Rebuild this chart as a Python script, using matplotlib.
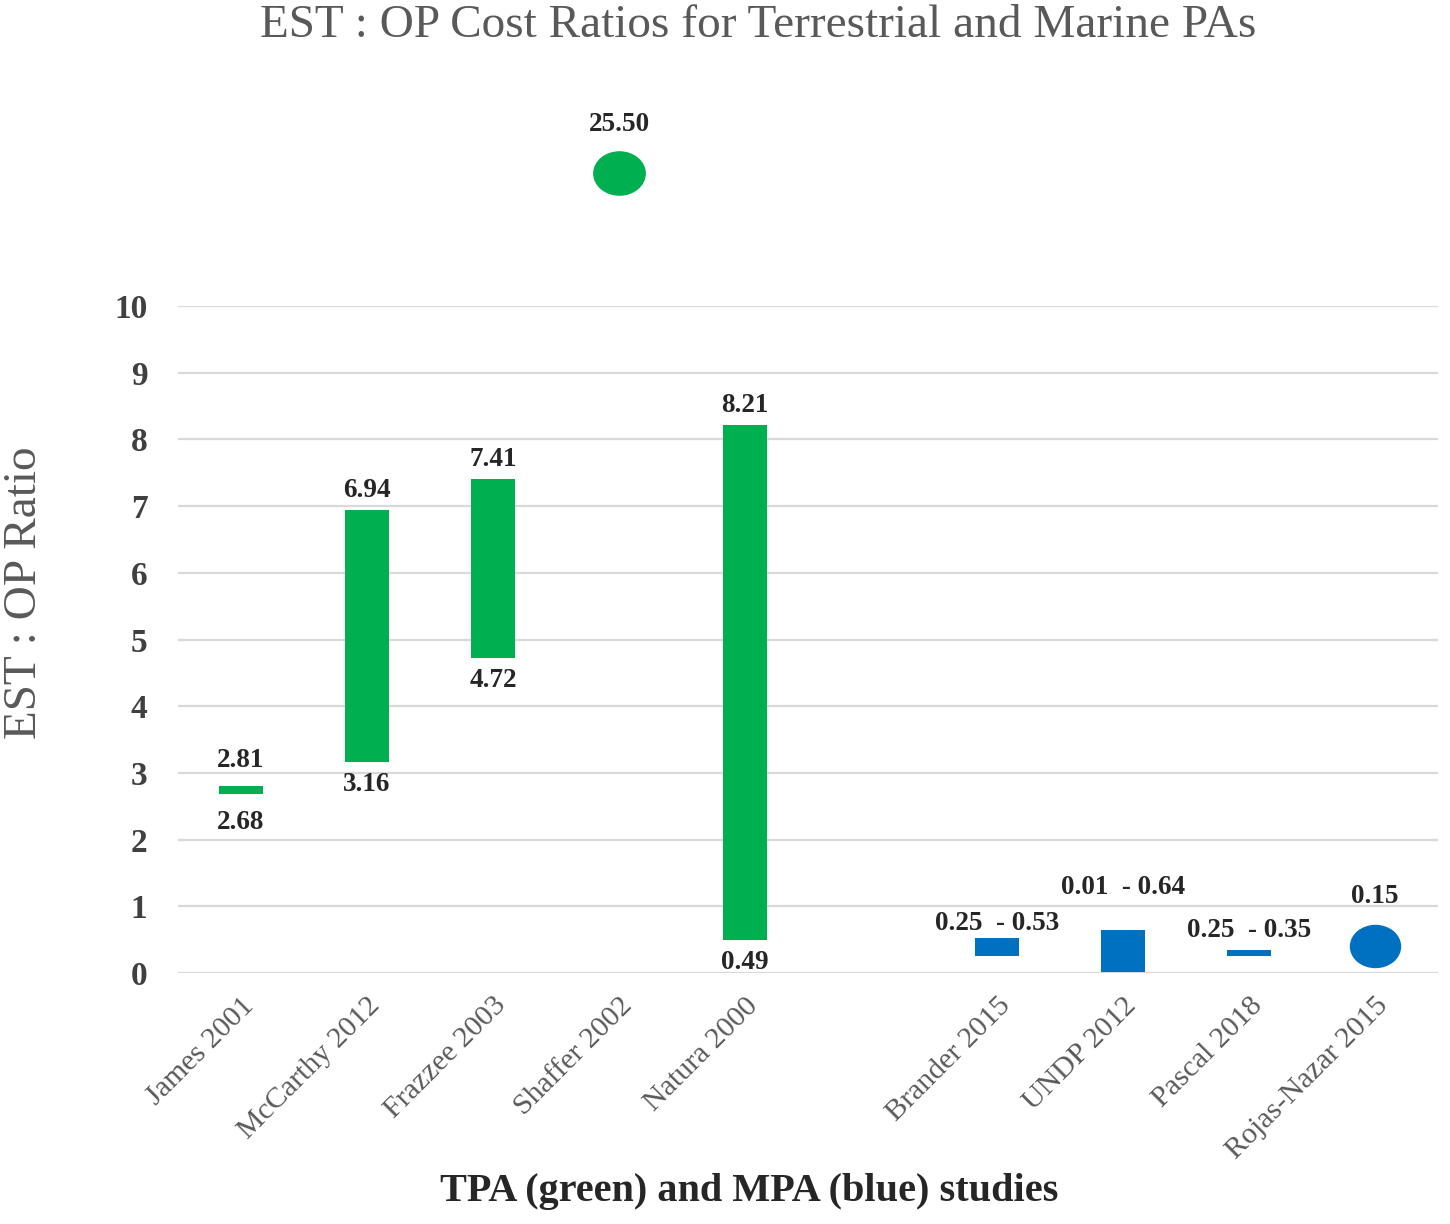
import matplotlib
matplotlib.use("Agg")
import matplotlib.pyplot as plt
from matplotlib.path import Path
from matplotlib.transforms import Affine2D, ScaledTranslation
import numpy as np

# ---- data ----
tpa_studies = ["James 2001", "McCarthy 2012", "Frazzee 2003", "Shaffer 2002", "Natura 2000"]
tpa_low = [2.68, 3.16, 4.72, None, 0.49]
tpa_high = [2.81, 6.94, 7.41, None, 8.21]
tpa_single = [None, None, None, 25.50, None]

mpa_studies = ["Brander 2015", "UNDP 2012", "Pascal 2018", "Rojas-Nazar 2015"]
mpa_low = [0.25, 0.01, 0.25, None]
mpa_high = [0.53, 0.64, 0.35, None]
mpa_single = [None, None, None, 0.15]

yticks = list(range(0, 11))

# ---- style ----
GREEN = "#00B050"
BLUE = "#0070C0"
GRAY = "#595959"
DARK = "#262626"
FONT = ["Liberation Serif", "DejaVu Serif"]
plt.rcParams["font.family"] = FONT

W, H = 1450, 1224
fig = plt.figure(figsize=(W / 100, H / 100), dpi=100)

ax_l, ax_r = 178 / W, 1438 / W
ax_b, ax_t = (H - 973) / H, (H - 306) / H
ax = fig.add_axes([ax_l, ax_b, ax_r - ax_l, ax_t - ax_b])

# positions: TPA slots 0..4, gap slot 5, MPA slots 6..9
tpa_x = np.arange(len(tpa_studies))
mpa_x = np.arange(len(mpa_studies)) + len(tpa_studies) + 1
bar_w = 0.35

ellipse = Path.unit_circle().transformed(Affine2D().scale(1.0, 0.84))

ax.set_xlim(-0.5, mpa_x[-1] + 0.5)
ax.set_ylim(0, 10)
ax.set_yticks(yticks)
ax.grid(axis="y", color="#d9d9d9", lw=1.6)
ax.set_axisbelow(True)
for s in ax.spines.values():
    s.set_visible(False)
ax.tick_params(axis="both", length=0)
ax.tick_params(axis="y", pad=22, labelsize=24, labelcolor="#404040")
for t in ax.get_yticklabels():
    t.set_fontweight("bold")

all_x = list(tpa_x) + list(mpa_x)
all_names = tpa_studies + mpa_studies
ax.set_xticks(all_x)
ax.set_xticklabels(all_names, rotation=45, ha="right", rotation_mode="anchor",
                   fontsize=21.5, color=GRAY)
ax.tick_params(axis="x", pad=14)

lab_kw = dict(ha="center", va="center", fontsize=19.5, fontweight="bold",
              color=DARK, textcoords="offset points", annotation_clip=False)

# TPA range bars
for x, lo, hi in zip(tpa_x, tpa_low, tpa_high):
    if lo is None:
        continue
    ax.bar(x, hi - lo, bottom=lo, width=bar_w, color=GREEN, zorder=3)
    off = 18 if (hi - lo) < 0.5 else 14
    ax.annotate(f"{hi:.2f}", (x, hi), xytext=(0, off), **lab_kw)
    ax.annotate(f"{lo:.2f}", (x, lo), xytext=(0, -off - 2), **lab_kw)

# TPA single value (off-scale) in upper broken panel
ax_top = fig.add_axes([ax_l, 0.80, ax_r - ax_l, 0.12])
ax_top.set_xlim(ax.get_xlim())
ax_top.set_ylim(24.52, 26.52)
ax_top.axis("off")
for x, v in zip(tpa_x, tpa_single):
    if v is None:
        continue
    ax_top.plot([x], [v], marker=ellipse, markersize=37, color=GREEN,
                linestyle="none", clip_on=False)
    ax_top.annotate(f"{v:.2f}", (x, v), xytext=(0, 35), **lab_kw)

# MPA range bars
mpa_lab_off = [10, 31, 14, 36]
for x, lo, hi, off in zip(mpa_x, mpa_low, mpa_high, mpa_lab_off):
    if lo is None:
        continue
    ax.bar(x, hi - lo, bottom=lo, width=bar_w, color=BLUE, zorder=3)
    ax.annotate(f"{lo:.2f}  - {hi:.2f}", (x, hi), xytext=(0, off), **lab_kw)

# MPA single value
for x, v, off in zip(mpa_x, mpa_single, mpa_lab_off):
    if v is None:
        continue
    tr = ax.transData + ScaledTranslation(0, 12 / 72, fig.dpi_scale_trans)
    ax.plot([x], [v], marker=ellipse, markersize=36, color=BLUE,
            linestyle="none", clip_on=False, transform=tr, zorder=4)
    ax.annotate(f"{v:.2f}", (x, v), xytext=(0, off + 12), **lab_kw)

fig.text(0.523, 0.979, "EST : OP Cost Ratios for Terrestrial and Marine PAs",
         ha="center", va="center", fontsize=34, color=GRAY)
fig.text(25 / W, 0.516, "EST : OP Ratio", rotation=90, ha="center", va="center",
         fontsize=34, color=GRAY)
fig.text(0.517, 1 - 1192 / H, "TPA (green) and MPA (blue) studies",
         ha="center", va="center", fontsize=29, fontweight="bold", color=DARK)

fig.savefig("out.png", dpi=100)
